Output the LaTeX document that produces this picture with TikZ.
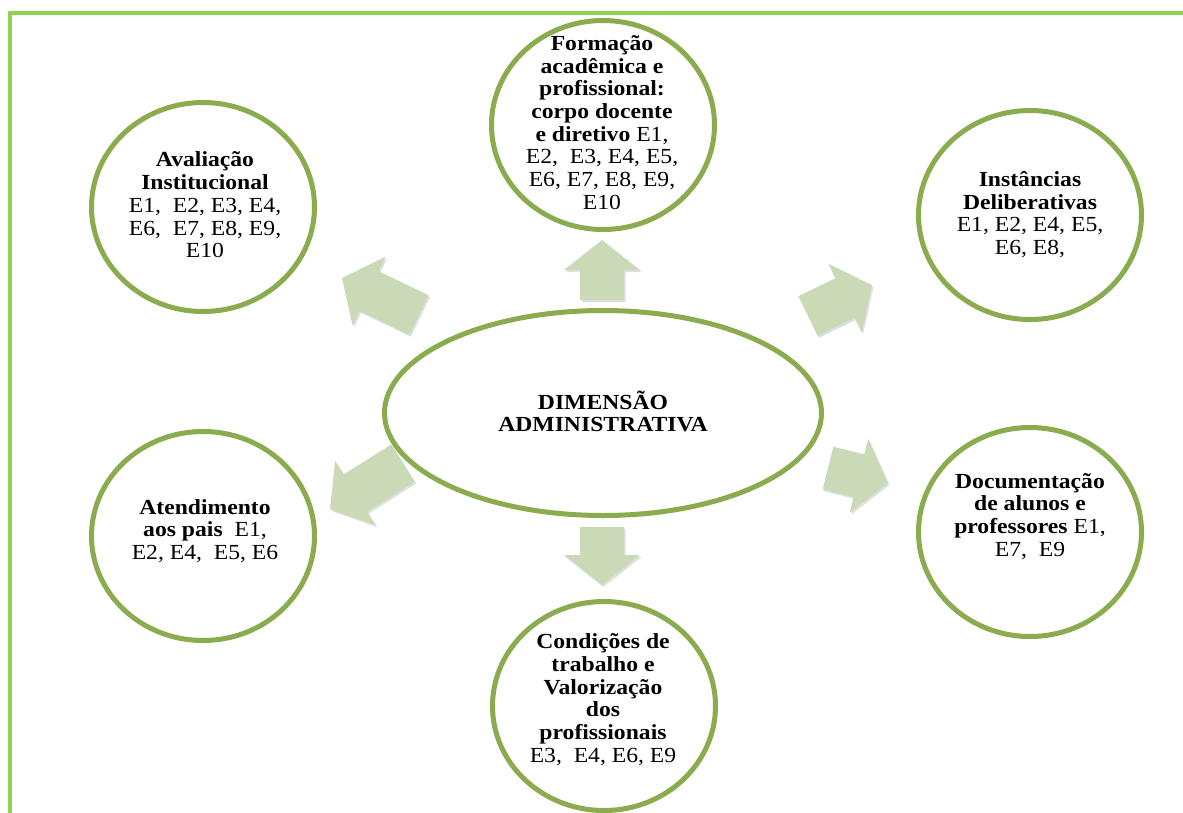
\documentclass[tikz,border=0pt]{standalone}
\usepackage{fontspec}
\setmainfont{Liberation Serif}[FakeStretch=1.1]
\usetikzlibrary{calc,shapes.geometric,shadows}

\definecolor{framegreen}{RGB}{146,208,80}
\definecolor{ringgreen}{RGB}{139,171,79}
\definecolor{arrowfill}{RGB}{202,217,182}

\tikzset{
  ring/.style={ellipse, draw=ringgreen, line width=5pt, fill=white, inner sep=0pt,
    drop shadow={shadow xshift=1pt, shadow yshift=-2pt, opacity=0.22}},
  sat/.style={ring, minimum width=223pt, minimum height=209pt},
  hub/.style={ring, minimum width=437pt, minimum height=205pt},
  ctext/.style={align=center, inner sep=0pt, font=\fontsize{21.5pt}{22.7pt}\selectfont},
  blockarr/.style={fill=arrowfill,
    drop shadow={shadow xshift=1.5pt, shadow yshift=-2pt, opacity=0.25}},
}

% block arrow from a tail midpoint to a tip
\newcommand{\blockarrow}[3]{%
  \coordinate (#1-t) at #2;
  \coordinate (#1-p) at #3;
  \coordinate (#1-h) at ($(#1-p)!30pt!(#1-t)$);
  \fill[blockarr] ($(#1-t)!22pt!90:(#1-p)$) -- ($(#1-h)!22pt!-90:(#1-t)$)
    -- ($(#1-h)!38pt!-90:(#1-t)$) -- (#1-p) -- ($(#1-h)!38pt!90:(#1-t)$)
    -- ($(#1-h)!22pt!90:(#1-t)$) -- ($(#1-t)!22pt!-90:(#1-p)$) -- cycle;
}

\begin{document}
\begin{tikzpicture}[x=1pt, y=-1pt]
  \path[use as bounding box] (0,0) rectangle (1183,812);
  \clip (0,0) rectangle (1183,812);

  % outer frame
  \draw[framegreen, line width=4.5pt] (10,13) rectangle (1210,840);

  % arrows pointing outwards from the centre
  \blockarrow{aup}{(602,300)}{(602,240)}
  \blockarrow{adown}{(602,527)}{(602,585)}
  \blockarrow{aul}{(419,315)}{(342,278)}
  \blockarrow{aur}{(808,316)}{(872,285)}
  \blockarrow{all}{(403,463)}{(330,509)}
  \blockarrow{alr}{(828,468)}{(888,483)}

  % central ellipse
  \node[hub] (hub) at (603,413) {};
  \node[ctext] (hub-t) at (603,411.5) {\textbf{DIMENSÃO}\\\textbf{ADMINISTRATIVA}};

  % surrounding circles
  \node[sat] (form) at (603,125) {};
  \node[ctext] (form-t) at (602,122.5) {\textbf{Formação}\\\textbf{acadêmica e}\\\textbf{profissional:}\\\textbf{corpo docente}\\\textbf{e diretivo} E1,\\E2,~ E3, E4, E5,\\E6, E7, E8, E9,\\E10};

  \node[sat] (aval) at (203,207) {};
  \node[ctext] (aval-t) at (205,205) {\textbf{Avaliação}\\\textbf{Institucional}\\E1,~ E2, E3, E4,\\E6,~ E7, E8, E9,\\E10};

  \node[sat] (inst) at (1030,215) {};
  \node[ctext] (inst-t) at (1030,214.5) {\textbf{Instâncias}\\\textbf{Deliberativas}\\E1, E2, E4, E5,\\E6, E8,};

  \node[sat] (aten) at (203,536) {};
  \node[ctext] (aten-t) at (205,531) {\textbf{Atendimento}\\\textbf{aos pais}~ E1,\\E2, E4,~ E5, E6};

  \node[sat] (docu) at (1030,532) {};
  \node[ctext] (docu-t) at (1030,516.5) {\textbf{Documentação}\\\textbf{de alunos e}\\\textbf{professores} E1,\\E7,~ E9};

  \node[sat] (cond) at (604,706) {};
  \node[ctext] (cond-t) at (603,699.5) {\textbf{Condições de}\\\textbf{trabalho e}\\\textbf{Valorização}\\\textbf{dos}\\\textbf{profissionais}\\E3,~ E4, E6, E9};
\end{tikzpicture}
\end{document}
